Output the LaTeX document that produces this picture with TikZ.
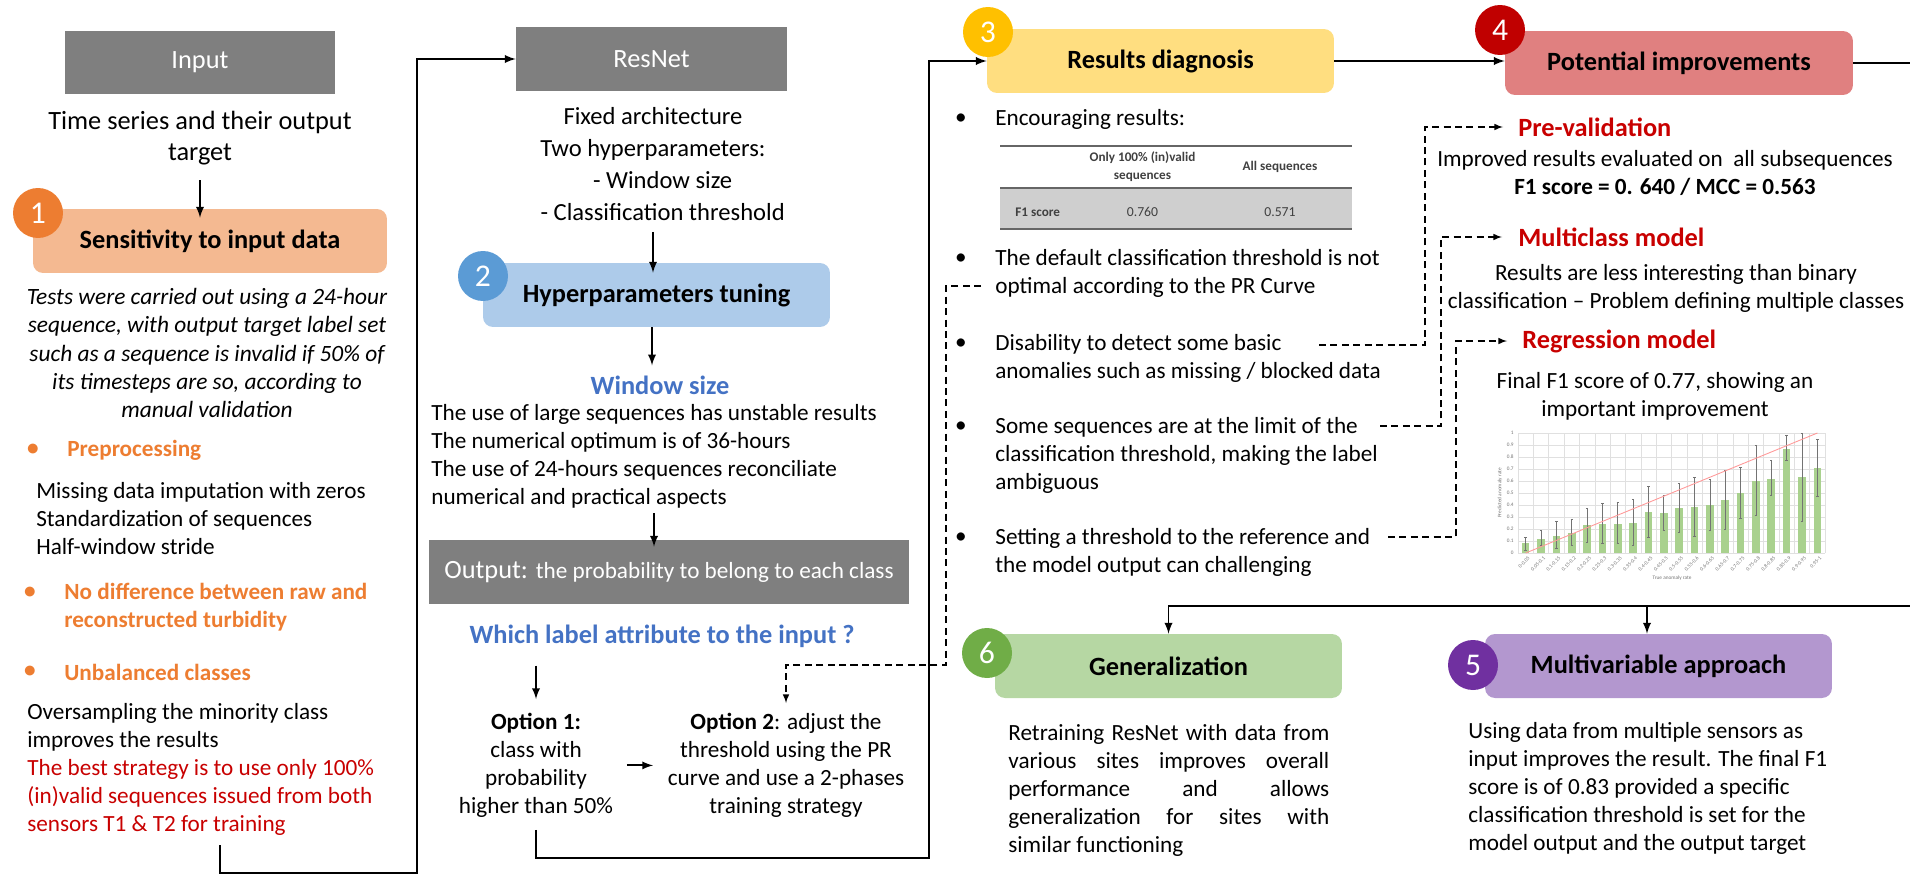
\documentclass[tikz,border=0pt]{standalone}
\usepackage{fontspec}
\setmainfont{Carlito}
\definecolor{boxgrey}{HTML}{7F7F7F}
\definecolor{sensfill}{HTML}{F4B991}
\definecolor{sensdark}{HTML}{ED7D31}
\definecolor{hypfill}{HTML}{ADCBEA}
\definecolor{hypdark}{HTML}{5B9BD5}
\definecolor{winblue}{HTML}{4472C4}
\definecolor{resfill}{HTML}{FFDE80}
\definecolor{resdark}{HTML}{FFC000}
\definecolor{potfill}{HTML}{E08080}
\definecolor{potdark}{HTML}{C00000}
\definecolor{genfill}{HTML}{B6D7A3}
\definecolor{gendark}{HTML}{70AD47}
\definecolor{mvfill}{HTML}{B397CF}
\definecolor{mvdark}{HTML}{7030A0}
\definecolor{alertred}{HTML}{C80000}
\definecolor{tabtext}{HTML}{404040}
\definecolor{chartgreen}{HTML}{A9D18E}
\begin{document}
\begin{tikzpicture}[x=0.02cm, y=-0.02cm, >=latex,
    every node/.style={inner sep=0pt},
    txt/.style={font=\fontsize{13.2}{15.9}\selectfont},
    greybox/.style={fill=boxgrey, text=white, minimum height=1.28cm, font=\fontsize{15}{17}\selectfont},
    stage/.style={rounded corners=0.2cm, minimum width=6.94cm, minimum height=1.28cm, font=\bfseries\fontsize{15}{17}\selectfont},
    badge/.style={circle, minimum size=1cm, text=white, font=\fontsize{18}{18}\selectfont},
    orangehead/.style={font=\bfseries\fontsize{13.2}{15.9}\selectfont, text=sensdark},
    bluehead/.style={font=\bfseries\fontsize{15}{17}\selectfont, text=winblue},
    redhead/.style={font=\bfseries\fontsize{15}{17}\selectfont, text=alertred, anchor=west},
    flow/.style={->, line width=1.1pt},
    hint/.style={->, line width=0.7pt, dash pattern=on 4pt off 2.5pt},
    tabrule/.style={draw=tabtext!80, line width=0.85pt},
    tabhead/.style={font=\bfseries\fontsize{7.5}{10.2}\selectfont, text=tabtext},
    chartgrid/.style={draw=black!12, line width=0.3pt},
    tick/.style={font=\fontsize{3}{3.5}\selectfont, text=black!55}]
\useasboundingbox (0,0) rectangle (1910,875);
\clip (0,0) rectangle (1910,875);

% input and data sensitivity
\node[greybox, minimum width=5.4cm] (input) at (200,62.5) {Input};
\node[txt, font=\fontsize{15}{17.6}\selectfont, align=center, anchor=north] (series) at (200,111) {Time series and their output\\target};
\node[stage, fill=sensfill, minimum width=7.08cm] (sens) at (210,241) {Sensitivity to input data};
\node[badge, fill=sensdark] (b1) at (38,213) {1};
\node[txt, font=\itshape\fontsize{13.3}{16.1}\selectfont, align=center, anchor=north] (tests) at (207,288) {Tests were carried out using a 24-hour\\sequence, with output target label set\\such as a sequence is invalid if 50\% of\\its timesteps are so, according to\\manual validation};
\node[orangehead] (d1) at (33,450) {\textbullet};
\node[orangehead, anchor=west] (prep) at (67,450) {Preprocessing};
\node[txt, align=left, anchor=north west] (preptxt) at (36,482) {Missing data imputation with zeros\\Standardization of sequences\\Half-window stride};
\node[orangehead] (d2) at (30,593) {\textbullet};
\node[orangehead, align=left, anchor=north west] (raw) at (64,583) {No difference between raw and\\reconstructed turbidity};
\node[orangehead] (d3) at (30,672) {\textbullet};
\node[orangehead, anchor=west] (unbal) at (64,672) {Unbalanced classes};
\node[txt, align=left, anchor=north west] (over) at (27,703) {Oversampling the minority class\\improves the results\\\textcolor{alertred}{The best strategy is to use only 100\%}\\\textcolor{alertred}{(in)valid sequences issued from both}\\\textcolor{alertred}{sensors T1 \& T2 for training}};
\coordinate (c1) at (220,845);

% network and tuning
\node[greybox, minimum width=5.42cm] (resnet) at (651.5,59) {ResNet};
\node[txt, font=\fontsize{14}{18.2}\selectfont, align=center, anchor=north] (arch) at (653,107) {Fixed architecture\\Two hyperparameters:\\\hspace*{11pt}- Window size\\\hspace*{11pt}- Classification threshold};
\node[stage, fill=hypfill] (hyp) at (656.5,295) {Hyperparameters tuning};
\node[badge, fill=hypdark] (b2) at (483,276) {2};
\node[bluehead] (win) at (660,385) {Window size};
\node[txt, align=left, anchor=north west] (wintxt) at (431,404) {The use of large sequences has unstable results\\The numerical optimum is of 36-hours\\The use of 24-hours sequences reconciliate\\numerical and practical aspects};
\node[greybox, minimum width=9.6cm] (output) at (669,572) {{\fontsize{15}{17}\selectfont Output:} {\fontsize{13.2}{15}\selectfont the probability to belong to each class}};
\node[bluehead] (which) at (662,636) {Which label attribute to the input ?};
\node[txt, align=center, anchor=north] (opt1) at (536,713) {\textbf{Option 1:}\\class with\\probability\\higher than 50\%};
\node[txt, align=center, anchor=north] (opt2) at (786,713) {\textbf{Option 2}: adjust the\\threshold using the PR\\curve and use a 2-phases\\training strategy};

% diagnosis
\node[stage, fill=resfill] (res) at (1160.5,61) {Results diagnosis};
\node[badge, fill=resdark] (b3) at (988,32) {3};
\node[txt] (e0) at (961,119) {\textbullet};
\node[txt, anchor=west] (enc) at (995,119) {Encouraging results:};
\fill[black!19] (1000,188) rectangle (1352,229);
\draw[tabrule] (1000,146) -- (1352,146);
\draw[tabrule] (1000,188) -- (1352,188);
\draw[tabrule] (1000,229) -- (1352,229);
\node[tabhead, align=center] (th1) at (1142.5,167) {Only 100\% (in)valid\\sequences};
\node[tabhead] (th2) at (1280,167) {All sequences};
\node[tabhead, anchor=west] (tf) at (1015,212) {F1 score};
\node[font=\fontsize{7.8}{10.2}\selectfont, text=tabtext] (tv1) at (1142.5,212) {0.760};
\node[font=\fontsize{7.8}{10.2}\selectfont, text=tabtext] (tv2) at (1280,212) {0.571};
\node[txt] (e1) at (961,259) {\textbullet};
\node[txt, align=left, anchor=north west] (r1) at (995,249) {The default classification threshold is not\\optimal according to the PR Curve};
\node[txt] (e2) at (961,344) {\textbullet};
\node[txt, align=left, anchor=north west] (r2) at (995,334) {Disability to detect some basic\\anomalies such as missing / blocked data};
\node[txt] (e3) at (961,427) {\textbullet};
\node[txt, align=left, anchor=north west] (r3) at (995,417) {Some sequences are at the limit of the\\classification threshold, making the label\\ambiguous};
\node[txt] (e4) at (961,538) {\textbullet};
\node[txt, align=left, anchor=north west] (r4) at (995,528) {Setting a threshold to the reference and\\the model output can challenging};
\coordinate (h1) at (981,286);
\coordinate (h2) at (1319,345);
\coordinate (h3) at (1380,426);
\coordinate (h4) at (1388,537);

% improvements
\node[stage, fill=potfill, minimum width=6.96cm] (pot) at (1679,63) {Potential improvements};
\node[badge, fill=potdark] (b4) at (1500,30) {4};
\node[redhead] (preval) at (1518,127) {Pre-validation};
\node[txt, align=center, anchor=north] (prevtxt) at (1665,150) {Improved results evaluated on \ all subsequences\\\textbf{F1 score = 0. 640 / MCC = 0.563}};
\node[redhead] (multi) at (1518,237) {Multiclass model};
\node[txt, align=center, anchor=north] (multitxt) at (1676,264) {Results are less interesting than binary\\classification – Problem defining multiple classes};
\node[redhead] (regr) at (1522,341) {Regression model};
\node[txt, align=center, anchor=north] (regrtxt) at (1655,372) {Final F1 score of 0.77, showing an\\important improvement};

% regression chart
\foreach \k in {0,...,20}
    \draw[chartgrid] (1518+15.35*\k,433) -- (1518+15.35*\k,553);
\foreach \t [count=\j] in {0,0.1,0.2,0.3,0.4,0.5,0.6,0.7,0.8,0.9,1} {
    \draw[chartgrid] (1518,553-120*\t) -- (1825,553-120*\t);
    \node[tick, anchor=east] (yt\j) at (1514,553-120*\t) {\t};
}
\foreach \v/\lo/\hi/\lab [count=\i] in {0.08/0.02/0.13/0-0.05, 0.12/0.06/0.19/0.05-0.1,
    0.145/0.04/0.26/0.1-0.15, 0.165/0.06/0.28/0.15-0.2, 0.23/0.09/0.375/0.2-0.25,
    0.24/0.08/0.41/0.25-0.3, 0.245/0.08/0.42/0.3-0.35, 0.25/0.06/0.45/0.35-0.4,
    0.345/0.13/0.555/0.4-0.45, 0.33/0.19/0.48/0.45-0.5, 0.375/0.17/0.58/0.5-0.55,
    0.385/0.14/0.63/0.55-0.6, 0.4/0.19/0.61/0.6-0.65, 0.44/0.2/0.69/0.65-0.7,
    0.5/0.29/0.715/0.7-0.75, 0.6/0.31/0.9/0.75-0.8, 0.62/0.48/0.77/0.8-0.85,
    0.87/0.77/0.98/0.85-0.9, 0.63/0.26/1/0.9-0.95, 0.71/0.47/0.95/0.95-1} {
    \pgfmathsetmacro\cx{1518+(\i-0.5)*15.35}
    \fill[chartgreen] (\cx-3.8,553) rectangle (\cx+3.8,553-120*\v);
    \draw[black!55, line width=0.4pt] (\cx,553-120*\lo) -- (\cx,553-120*\hi)
        (\cx-1.2,553-120*\hi) -- (\cx+1.2,553-120*\hi)
        (\cx-1.2,553-120*\lo) -- (\cx+1.2,553-120*\lo);
    \node[tick, rotate=45, anchor=north east] (xt\i) at (\cx+2,556) {\lab};
}
\draw[red!40, line width=0.5pt] (1525.7,553) -- (1817.4,433);
\node[tick] (xtitle) at (1672,578) {True anomaly rate};
\node[tick, rotate=90] (ytitle) at (1500,493) {Predicted anomaly rate};

% generalization and multivariable
\node[stage, fill=genfill] (gen) at (1168.5,666) {Generalization};
\node[badge, fill=gendark] (b6) at (987,653) {6};
\node[txt, text width=6.42cm, align=justify, anchor=north west] (gentxt) at (1008,724) {Retraining ResNet with data from\linebreak various sites improves overall\linebreak performance and allows\linebreak generalization for sites with\linebreak similar functioning};
\node[stage, fill=mvfill] (mv) at (1658.5,666) {Multivariable approach};
\node[badge, fill=mvdark] (b5) at (1473,665) {5};
\node[txt, align=left, anchor=north west] (mvtxt) at (1468,722) {Using data from multiple sensors as\\input improves the result. The final F1\\score is of 0.83 provided a specific\\classification threshold is set for the\\model output and the output target};
\coordinate (split) at (1647,606);

% connectors
\draw[flow] ([yshift=-0.3cm]series.south) -- ([yshift=-0.18cm]series.south |- sens.north);
\draw[flow] (c1) |- (417,873) |- (resnet.west);
\draw[flow] ([yshift=-0.22cm]arch.south) -- ([yshift=-0.2cm]arch.south |- hyp.north);
\draw[flow] (hyp.south -| 652,0) -- ([yshift=0.2cm]win.north -| 652,0);
\draw[flow] ([yshift=-0.1cm]wintxt.south) -- ([yshift=-0.14cm]wintxt.south |- output.north);
\draw[flow] ([yshift=-0.36cm]which.south -| opt1) -- ([yshift=0.28cm]opt1.north);
\draw[flow] ([xshift=1.82cm]opt1.center) -- ([xshift=2.34cm]opt1.center);
\draw[flow] ([yshift=-0.24cm]opt1.south) |- (929,858) |- (res.west);
\draw[flow] (res.east) -- (res.east -| pot.west);
\draw[flow] (pot.east) -| (1930,606) -| (gen.north);
\draw[flow] (split) -- (split |- mv.north);
\draw[hint, shorten >=0.2cm] (h1) -| (946,665) -| (opt2.north);
\draw[hint, shorten >=0.3cm] (h2) -| (1425,127) -- (preval.west);
\draw[hint, shorten >=0.32cm] (h3) -| (1441,237) -- (multi.west);
\draw[hint, shorten >=0.3cm] (h4) -| (1456,341) -- (regr.west);
\end{tikzpicture}
\end{document}
